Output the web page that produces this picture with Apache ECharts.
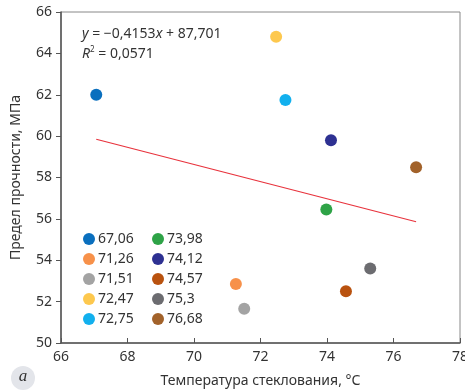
<!DOCTYPE html>
<html><head><meta charset="utf-8">
<script src="https://cdn.jsdelivr.net/npm/echarts@6/dist/echarts.min.js"></script>
<style>html,body{margin:0;padding:0;background:#fff}#c{width:465px;height:392px}</style>
</head><body><div id="c"></div>
<script>
const categories = ['67,06','71,26','71,51','72,47','72,75','73,98','74,12','74,57','75,3','76,68'];
const tempValues = [67.06, 71.26, 71.51, 72.47, 72.75, 73.98, 74.12, 74.57, 75.3, 76.68];
const strengthValues = [62.0, 52.85, 51.65, 64.8, 61.75, 56.45, 59.8, 52.5, 53.6, 58.5];
const colors = ['#0A6FBE','#F7914A','#A3A3A3','#FDC84E','#12B0EE','#2EA347','#2E3192','#B9520F','#6C6C70','#A2622A'];
const trendX = [67.06, 76.68];
const trendY = [59.85, 55.86];
const xTicks = [66, 78, 2];
const yTicks = [50, 66, 2];
const FONT = '"Noto Sans",sans-serif';

const chart = echarts.init(document.getElementById('c'));
const series = categories.map((c, i) => ({
  name: c, type: 'scatter', symbolSize: 12,
  itemStyle: {color: colors[i], opacity: 1},
  data: [[tempValues[i], strengthValues[i]]], z: 3
}));
series.push({
  name: 'trend', type: 'line', showSymbol: false, symbol: 'none',
  lineStyle: {color: '#E8323C', width: 1.2},
  data: trendX.map((x, i) => [x, trendY[i]]), z: 2, silent: true
});
const legendBase = {
  orient: 'vertical', itemWidth: 12, itemHeight: 12, itemGap: 6, icon: 'circle',
  textStyle: {fontFamily: FONT, fontSize: 14, color: '#333', padding: [0,0,0,-2]},
  selectedMode: false
};
chart.setOption({
  animation: false,
  grid: {left: 61, right: 5, top: 12, bottom: 49, show: true, borderColor: '#888', borderWidth: 1, outerBoundsMode: 'none', containLabel: false},
  legend: [
    Object.assign({}, legendBase, {data: categories.slice(0,5), left: 78, top: 227}),
    Object.assign({}, legendBase, {data: categories.slice(5), left: 147, top: 227})
  ],
  xAxis: {
    type: 'value', min: xTicks[0], max: xTicks[1], interval: xTicks[2],
    axisLine: {lineStyle: {color: '#555', width: 1.5}},
    axisTick: {inside: true, length: 5, lineStyle: {color: '#555'}},
    splitLine: {show: false},
    axisLabel: {fontFamily: FONT, fontSize: 14, color: '#333', margin: 7},
    name: 'Температура стеклования, °С', nameLocation: 'middle', nameGap: 31,
    nameTextStyle: {fontFamily: FONT, fontSize: 14, color: '#333'}
  },
  yAxis: {
    type: 'value', min: yTicks[0], max: yTicks[1], interval: yTicks[2],
    axisLine: {show: true, lineStyle: {color: '#555', width: 1.5}},
    axisTick: {show: true, inside: false, length: 5, lineStyle: {color: '#555'}},
    splitLine: {show: false},
    axisLabel: {fontFamily: FONT, fontSize: 14, color: '#333', margin: 9},
    name: 'Предел прочности, МПа', nameLocation: 'middle', nameGap: 38,
    nameTextStyle: {fontFamily: FONT, fontSize: 14, color: '#333'}
  },
  graphic: [
    {type: 'text', left: 82, top: 27, style: {
      text: '{i|y} = −0,4153{i|x} + 87,701',
      rich: {i: {fontStyle: 'italic', fontFamily: FONT, fontSize: 14, fill: '#333'}},
      fontFamily: FONT, fontSize: 14, fill: '#333'}},
    {type: 'text', left: 82, top: 46, style: {
      text: '{i|R}{s|2} = 0,0571',
      rich: {i: {fontStyle: 'italic', fontFamily: FONT, fontSize: 14, fill: '#333'},
             s: {fontFamily: FONT, fontSize: 8, fill: '#333', verticalAlign: 'top', padding: [0,0,8,0]}},
      fontFamily: FONT, fontSize: 14, fill: '#333'}},
    {type: 'circle', shape: {cx: 23, cy: 378, r: 12}, style: {fill: '#E3E5EA'}},
    {type: 'text', x: 23, y: 377, style: {text: 'a', fontFamily: '"Liberation Serif",serif', fontStyle: 'italic', fontSize: 17, fill: '#333', align: 'center', verticalAlign: 'middle'}}
  ],
  series: series
});
</script></body></html>
